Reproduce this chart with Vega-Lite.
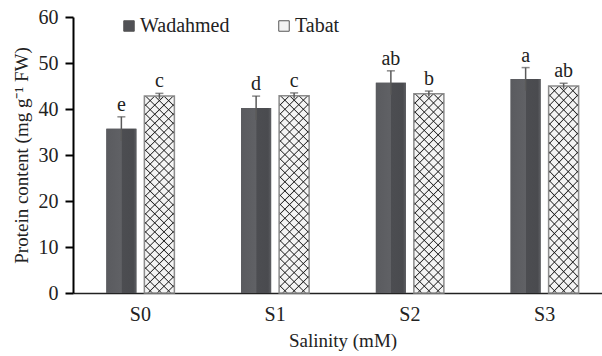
{
  "$schema": "https://vega.github.io/schema/vega-lite/v6.json",
  "width": 529,
  "height": 276,
  "autosize": {"type": "none"},
  "padding": {"left": 73, "top": 17, "right": 0, "bottom": 63},
  "background": "white",
  "config": {
    "view": {"stroke": null},
    "font": "Liberation Serif",
    "axis": {"labelFont": "Liberation Serif", "titleFont": "Liberation Serif", "titleFontWeight": "normal", "labelColor": "#222", "titleColor": "#222", "grid": false}
  },
  "data": {
    "values": [
      {"salinity": "S0", "cultivar": "Wadahmed", "mean": 35.7, "lo": 33.1, "hi": 38.3, "letter": "e"},
      {"salinity": "S0", "cultivar": "Tabat", "mean": 42.8, "lo": 42.2, "hi": 43.4, "letter": "c"},
      {"salinity": "S1", "cultivar": "Wadahmed", "mean": 40.2, "lo": 37.6, "hi": 42.8, "letter": "d"},
      {"salinity": "S1", "cultivar": "Tabat", "mean": 42.9, "lo": 42.3, "hi": 43.5, "letter": "c"},
      {"salinity": "S2", "cultivar": "Wadahmed", "mean": 45.7, "lo": 43.1, "hi": 48.3, "letter": "ab"},
      {"salinity": "S2", "cultivar": "Tabat", "mean": 43.3, "lo": 42.7, "hi": 43.9, "letter": "b"},
      {"salinity": "S3", "cultivar": "Wadahmed", "mean": 46.5, "lo": 44.0, "hi": 49.0, "letter": "a"},
      {"salinity": "S3", "cultivar": "Tabat", "mean": 45.0, "lo": 44.4, "hi": 45.6, "letter": "ab"}
    ]
  },
  "encoding": {
    "x": {
      "field": "salinity", "type": "nominal",
      "scale": {"range": [0, 539], "paddingInner": 0, "paddingOuter": 0},
      "axis": {"title": "Salinity (mM)", "labelAngle": 0, "ticks": false, "domainColor": "#222", "domainWidth": 1.5, "labelFontSize": 20, "labelPadding": 11, "titleFontSize": 19, "titlePadding": 7}
    },
    "xOffset": {
      "field": "cultivar", "type": "nominal", "sort": ["Wadahmed", "Tabat"],
      "scale": {"paddingInner": 0.21, "paddingOuter": 0.878}
    }
  },
  "layer": [
    {
      "mark": {"type": "bar"},
      "encoding": {
        "y": {
          "field": "mean", "type": "quantitative",
          "scale": {"domain": [0, 60], "nice": false},
          "axis": {"title": "Protein content (mg g⁻¹ FW)", "values": [0, 10, 20, 30, 40, 50, 60], "domainColor": "black", "domainWidth": 2, "tickColor": "black", "tickWidth": 2, "tickSize": 8, "labelFontSize": 20, "labelPadding": 7, "titleFontSize": 19, "titlePadding": 7}
        },
        "color": {
          "field": "cultivar", "type": "nominal",
          "scale": {"domain": ["Wadahmed", "Tabat"], "range": ["#505155", "#f4f4f4"]},
          "legend": {"orient": "none", "legendX": 46, "legendY": -1, "direction": "horizontal", "columns": 2, "title": null, "labelFontSize": 20, "labelFont": "Liberation Serif", "labelColor": "#222", "symbolType": "square", "symbolSize": 110, "labelOffset": 1, "columnPadding": 44, "symbolStrokeColor": "#555", "symbolStrokeWidth": 1, "padding": 0}
        }
      }
    },
    {
      "transform": [{"filter": "datum.cultivar === 'Wadahmed'"}],
      "mark": {
        "type": "bar",
        "fill": {"gradient": "linear", "x1": 0, "y1": 0, "x2": 1, "y2": 0, "stops": [
          {"offset": 0, "color": "#5a5b5f"},
          {"offset": 0.5, "color": "#606165"},
          {"offset": 0.52, "color": "#4c4d51"},
          {"offset": 0.9, "color": "#4a4b4f"},
          {"offset": 1, "color": "#5e5f63"}
        ]}
      },
      "encoding": {"y": {"field": "mean", "type": "quantitative"}}
    },
    {
      "transform": [{"filter": "datum.cultivar === 'Tabat'"}],
      "mark": {
        "type": "bar",
        "fill": {"gradient": "linear", "x1": 0, "y1": 0, "x2": 0.1687, "y2": 1.1247, "stops": [
          {"offset": 0, "color": "rgba(20,20,20,0)"}, {"offset": 0.005, "color": "rgba(20,20,20,0.9)"}, {"offset": 0.01, "color": "rgba(20,20,20,0)"},
          {"offset": 0.04, "color": "rgba(20,20,20,0)"}, {"offset": 0.045, "color": "rgba(20,20,20,0.9)"}, {"offset": 0.05, "color": "rgba(20,20,20,0)"},
          {"offset": 0.08, "color": "rgba(20,20,20,0)"}, {"offset": 0.085, "color": "rgba(20,20,20,0.9)"}, {"offset": 0.09, "color": "rgba(20,20,20,0)"},
          {"offset": 0.12, "color": "rgba(20,20,20,0)"}, {"offset": 0.125, "color": "rgba(20,20,20,0.9)"}, {"offset": 0.13, "color": "rgba(20,20,20,0)"},
          {"offset": 0.16, "color": "rgba(20,20,20,0)"}, {"offset": 0.165, "color": "rgba(20,20,20,0.9)"}, {"offset": 0.17, "color": "rgba(20,20,20,0)"},
          {"offset": 0.2, "color": "rgba(20,20,20,0)"}, {"offset": 0.205, "color": "rgba(20,20,20,0.9)"}, {"offset": 0.21, "color": "rgba(20,20,20,0)"},
          {"offset": 0.24, "color": "rgba(20,20,20,0)"}, {"offset": 0.245, "color": "rgba(20,20,20,0.9)"}, {"offset": 0.25, "color": "rgba(20,20,20,0)"},
          {"offset": 0.28, "color": "rgba(20,20,20,0)"}, {"offset": 0.285, "color": "rgba(20,20,20,0.9)"}, {"offset": 0.29, "color": "rgba(20,20,20,0)"},
          {"offset": 0.32, "color": "rgba(20,20,20,0)"}, {"offset": 0.325, "color": "rgba(20,20,20,0.9)"}, {"offset": 0.33, "color": "rgba(20,20,20,0)"},
          {"offset": 0.36, "color": "rgba(20,20,20,0)"}, {"offset": 0.365, "color": "rgba(20,20,20,0.9)"}, {"offset": 0.37, "color": "rgba(20,20,20,0)"},
          {"offset": 0.4, "color": "rgba(20,20,20,0)"}, {"offset": 0.405, "color": "rgba(20,20,20,0.9)"}, {"offset": 0.41, "color": "rgba(20,20,20,0)"},
          {"offset": 0.44, "color": "rgba(20,20,20,0)"}, {"offset": 0.445, "color": "rgba(20,20,20,0.9)"}, {"offset": 0.45, "color": "rgba(20,20,20,0)"},
          {"offset": 0.48, "color": "rgba(20,20,20,0)"}, {"offset": 0.485, "color": "rgba(20,20,20,0.9)"}, {"offset": 0.49, "color": "rgba(20,20,20,0)"},
          {"offset": 0.52, "color": "rgba(20,20,20,0)"}, {"offset": 0.525, "color": "rgba(20,20,20,0.9)"}, {"offset": 0.53, "color": "rgba(20,20,20,0)"},
          {"offset": 0.56, "color": "rgba(20,20,20,0)"}, {"offset": 0.565, "color": "rgba(20,20,20,0.9)"}, {"offset": 0.57, "color": "rgba(20,20,20,0)"},
          {"offset": 0.6, "color": "rgba(20,20,20,0)"}, {"offset": 0.605, "color": "rgba(20,20,20,0.9)"}, {"offset": 0.61, "color": "rgba(20,20,20,0)"},
          {"offset": 0.64, "color": "rgba(20,20,20,0)"}, {"offset": 0.645, "color": "rgba(20,20,20,0.9)"}, {"offset": 0.65, "color": "rgba(20,20,20,0)"},
          {"offset": 0.68, "color": "rgba(20,20,20,0)"}, {"offset": 0.685, "color": "rgba(20,20,20,0.9)"}, {"offset": 0.69, "color": "rgba(20,20,20,0)"},
          {"offset": 0.72, "color": "rgba(20,20,20,0)"}, {"offset": 0.725, "color": "rgba(20,20,20,0.9)"}, {"offset": 0.73, "color": "rgba(20,20,20,0)"},
          {"offset": 0.76, "color": "rgba(20,20,20,0)"}, {"offset": 0.765, "color": "rgba(20,20,20,0.9)"}, {"offset": 0.77, "color": "rgba(20,20,20,0)"},
          {"offset": 0.8, "color": "rgba(20,20,20,0)"}, {"offset": 0.805, "color": "rgba(20,20,20,0.9)"}, {"offset": 0.81, "color": "rgba(20,20,20,0)"},
          {"offset": 0.84, "color": "rgba(20,20,20,0)"}, {"offset": 0.845, "color": "rgba(20,20,20,0.9)"}, {"offset": 0.85, "color": "rgba(20,20,20,0)"},
          {"offset": 0.88, "color": "rgba(20,20,20,0)"}, {"offset": 0.885, "color": "rgba(20,20,20,0.9)"}, {"offset": 0.89, "color": "rgba(20,20,20,0)"},
          {"offset": 0.92, "color": "rgba(20,20,20,0)"}, {"offset": 0.925, "color": "rgba(20,20,20,0.9)"}, {"offset": 0.93, "color": "rgba(20,20,20,0)"},
          {"offset": 0.96, "color": "rgba(20,20,20,0)"}, {"offset": 0.965, "color": "rgba(20,20,20,0.9)"}, {"offset": 0.97, "color": "rgba(20,20,20,0)"},
          {"offset": 1, "color": "rgba(20,20,20,0)"}
        ]}
      },
      "encoding": {"y": {"field": "mean", "type": "quantitative"}}
    },
    {
      "transform": [{"filter": "datum.cultivar === 'Tabat'"}],
      "mark": {
        "type": "bar",
        "stroke": "#8c8c8c",
        "strokeWidth": 1.5,
        "fill": {"gradient": "linear", "x1": 1, "y1": 0, "x2": 0.8313, "y2": 1.1247, "stops": [
          {"offset": 0, "color": "rgba(20,20,20,0)"}, {"offset": 0.005, "color": "rgba(20,20,20,0.9)"}, {"offset": 0.01, "color": "rgba(20,20,20,0)"},
          {"offset": 0.04, "color": "rgba(20,20,20,0)"}, {"offset": 0.045, "color": "rgba(20,20,20,0.9)"}, {"offset": 0.05, "color": "rgba(20,20,20,0)"},
          {"offset": 0.08, "color": "rgba(20,20,20,0)"}, {"offset": 0.085, "color": "rgba(20,20,20,0.9)"}, {"offset": 0.09, "color": "rgba(20,20,20,0)"},
          {"offset": 0.12, "color": "rgba(20,20,20,0)"}, {"offset": 0.125, "color": "rgba(20,20,20,0.9)"}, {"offset": 0.13, "color": "rgba(20,20,20,0)"},
          {"offset": 0.16, "color": "rgba(20,20,20,0)"}, {"offset": 0.165, "color": "rgba(20,20,20,0.9)"}, {"offset": 0.17, "color": "rgba(20,20,20,0)"},
          {"offset": 0.2, "color": "rgba(20,20,20,0)"}, {"offset": 0.205, "color": "rgba(20,20,20,0.9)"}, {"offset": 0.21, "color": "rgba(20,20,20,0)"},
          {"offset": 0.24, "color": "rgba(20,20,20,0)"}, {"offset": 0.245, "color": "rgba(20,20,20,0.9)"}, {"offset": 0.25, "color": "rgba(20,20,20,0)"},
          {"offset": 0.28, "color": "rgba(20,20,20,0)"}, {"offset": 0.285, "color": "rgba(20,20,20,0.9)"}, {"offset": 0.29, "color": "rgba(20,20,20,0)"},
          {"offset": 0.32, "color": "rgba(20,20,20,0)"}, {"offset": 0.325, "color": "rgba(20,20,20,0.9)"}, {"offset": 0.33, "color": "rgba(20,20,20,0)"},
          {"offset": 0.36, "color": "rgba(20,20,20,0)"}, {"offset": 0.365, "color": "rgba(20,20,20,0.9)"}, {"offset": 0.37, "color": "rgba(20,20,20,0)"},
          {"offset": 0.4, "color": "rgba(20,20,20,0)"}, {"offset": 0.405, "color": "rgba(20,20,20,0.9)"}, {"offset": 0.41, "color": "rgba(20,20,20,0)"},
          {"offset": 0.44, "color": "rgba(20,20,20,0)"}, {"offset": 0.445, "color": "rgba(20,20,20,0.9)"}, {"offset": 0.45, "color": "rgba(20,20,20,0)"},
          {"offset": 0.48, "color": "rgba(20,20,20,0)"}, {"offset": 0.485, "color": "rgba(20,20,20,0.9)"}, {"offset": 0.49, "color": "rgba(20,20,20,0)"},
          {"offset": 0.52, "color": "rgba(20,20,20,0)"}, {"offset": 0.525, "color": "rgba(20,20,20,0.9)"}, {"offset": 0.53, "color": "rgba(20,20,20,0)"},
          {"offset": 0.56, "color": "rgba(20,20,20,0)"}, {"offset": 0.565, "color": "rgba(20,20,20,0.9)"}, {"offset": 0.57, "color": "rgba(20,20,20,0)"},
          {"offset": 0.6, "color": "rgba(20,20,20,0)"}, {"offset": 0.605, "color": "rgba(20,20,20,0.9)"}, {"offset": 0.61, "color": "rgba(20,20,20,0)"},
          {"offset": 0.64, "color": "rgba(20,20,20,0)"}, {"offset": 0.645, "color": "rgba(20,20,20,0.9)"}, {"offset": 0.65, "color": "rgba(20,20,20,0)"},
          {"offset": 0.68, "color": "rgba(20,20,20,0)"}, {"offset": 0.685, "color": "rgba(20,20,20,0.9)"}, {"offset": 0.69, "color": "rgba(20,20,20,0)"},
          {"offset": 0.72, "color": "rgba(20,20,20,0)"}, {"offset": 0.725, "color": "rgba(20,20,20,0.9)"}, {"offset": 0.73, "color": "rgba(20,20,20,0)"},
          {"offset": 0.76, "color": "rgba(20,20,20,0)"}, {"offset": 0.765, "color": "rgba(20,20,20,0.9)"}, {"offset": 0.77, "color": "rgba(20,20,20,0)"},
          {"offset": 0.8, "color": "rgba(20,20,20,0)"}, {"offset": 0.805, "color": "rgba(20,20,20,0.9)"}, {"offset": 0.81, "color": "rgba(20,20,20,0)"},
          {"offset": 0.84, "color": "rgba(20,20,20,0)"}, {"offset": 0.845, "color": "rgba(20,20,20,0.9)"}, {"offset": 0.85, "color": "rgba(20,20,20,0)"},
          {"offset": 0.88, "color": "rgba(20,20,20,0)"}, {"offset": 0.885, "color": "rgba(20,20,20,0.9)"}, {"offset": 0.89, "color": "rgba(20,20,20,0)"},
          {"offset": 0.92, "color": "rgba(20,20,20,0)"}, {"offset": 0.925, "color": "rgba(20,20,20,0.9)"}, {"offset": 0.93, "color": "rgba(20,20,20,0)"},
          {"offset": 0.96, "color": "rgba(20,20,20,0)"}, {"offset": 0.965, "color": "rgba(20,20,20,0.9)"}, {"offset": 0.97, "color": "rgba(20,20,20,0)"},
          {"offset": 1, "color": "rgba(20,20,20,0)"}
        ]}
      },
      "encoding": {"y": {"field": "mean", "type": "quantitative"}}
    },
    {
      "mark": {"type": "rule", "color": "#5a5a5a", "strokeWidth": 1.5},
      "encoding": {
        "y": {"field": "lo", "type": "quantitative"},
        "y2": {"field": "hi"}
      }
    },
    {
      "mark": {"type": "tick", "color": "#5a5a5a", "size": 8, "thickness": 1.5},
      "encoding": {"y": {"field": "hi", "type": "quantitative"}}
    },
    {
      "mark": {"type": "text", "font": "Liberation Serif", "fontSize": 20, "baseline": "alphabetic", "dy": -6, "color": "#222"},
      "encoding": {
        "y": {"field": "hi", "type": "quantitative"},
        "text": {"field": "letter"}
      }
    }
  ]
}
